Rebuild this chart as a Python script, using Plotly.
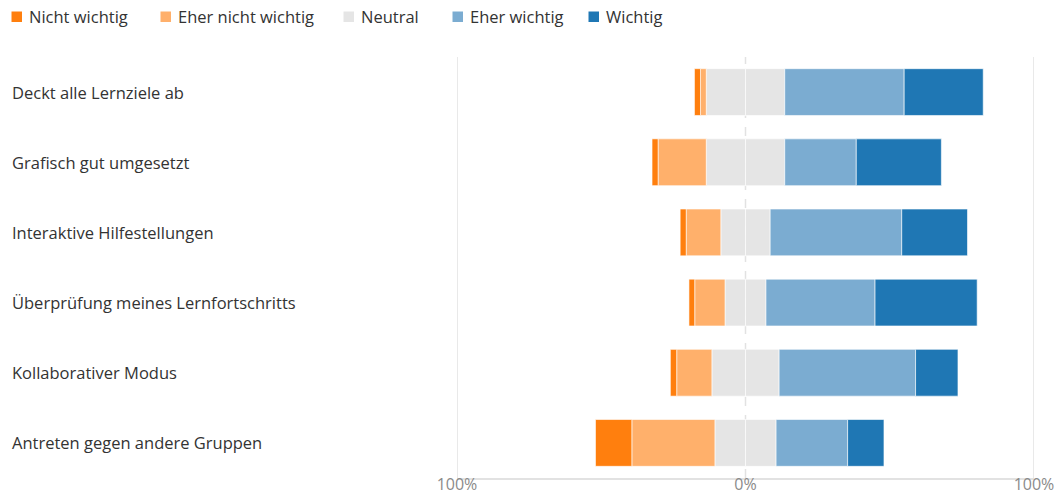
import plotly.graph_objects as go

categories = [
    "Deckt alle Lernziele ab",
    "Grafisch gut umgesetzt",
    "Interaktive Hilfestellungen",
    "Überprüfung meines Lernfortschritts",
    "Kollaborativer Modus",
    "Antreten gegen andere Gruppen",
]
nicht_wichtig = [2.1, 2.1, 2.1, 2.0, 2.2, 12.6]
eher_nicht_wichtig = [2.0, 16.7, 12.0, 10.5, 12.2, 28.8]
neutral = [27.2, 27.2, 17.1, 14.2, 23.3, 21.2]
eher_wichtig = [41.4, 24.8, 45.6, 37.8, 47.3, 24.8]
wichtig = [27.4, 29.5, 22.8, 35.4, 14.7, 12.6]

legend_names = ["Nicht wichtig", "Eher nicht wichtig", "Neutral", "Eher wichtig", "Wichtig"]

tick_vals = [-100, 0, 100]
tick_text = ["100%", "0%", "100%"]

colors = {
    "Nicht wichtig": "#ff7f0e",
    "Eher nicht wichtig": "#ffb06b",
    "Neutral": "#e5e5e5",
    "Eher wichtig": "#7bacd1",
    "Wichtig": "#1f77b4",
}

FONT = "Open Sans, Noto Sans, sans-serif"
FS = 16.5
W, H = 1057, 494
TOP, BOTTOM = 57, 478
line = dict(color="rgba(255,255,255,0.6)", width=1)

fig = go.Figure()
half_neutral = [v / 2 for v in neutral]

def add(name, xs):
    fig.add_trace(go.Bar(
        y=categories, x=xs, orientation="h", name=name,
        marker=dict(color=colors[name], line=line),
        width=0.667, showlegend=False, hoverinfo="x+y+name",
    ))

add("Neutral", [-v for v in half_neutral])
add("Neutral", half_neutral)
add("Eher nicht wichtig", [-v for v in eher_nicht_wichtig])
add("Eher wichtig", eher_wichtig)
add("Nicht wichtig", [-v for v in nicht_wichtig])
add("Wichtig", wichtig)

def py(pix):
    return (BOTTOM - pix) / (BOTTOM - TOP)

# custom legend (square + label)
legend_text_x = [29, 178, 361, 470, 606]
for name, tx in zip(legend_names, legend_text_x):
    fig.add_shape(
        type="rect", xref="paper", yref="paper",
        x0=(tx - 17.5) / W, x1=(tx - 7) / W, y0=py(22), y1=py(11.5),
        fillcolor=colors[name], line=dict(width=0),
    )
    fig.add_annotation(
        x=(tx - 2) / W, xref="paper", xanchor="left",
        y=py(17), yref="paper", yanchor="middle",
        text=name, showarrow=False,
        font=dict(family=FONT, size=FS, color="#333333"),
    )

# category labels, left aligned
for c in categories:
    fig.add_annotation(
        x=10 / W, xref="paper", xanchor="left",
        y=c, yref="y", text=c, showarrow=False,
        font=dict(family=FONT, size=FS, color="#333333"),
    )

# gridlines
for v, dash in [(-100, "solid"), (100, "solid"), (0, "dash")]:
    fig.add_shape(
        type="line", x0=v, x1=v, y0=0, y1=1, xref="x", yref="y domain",
        line=dict(color="#e2e2e2", width=1.5, dash=dash), layer="below",
    )

fig.update_layout(
    width=W, height=H,
    barmode="relative",
    bargap=0.333,
    showlegend=False,
    plot_bgcolor="white", paper_bgcolor="white",
    margin=dict(l=0, r=0, t=TOP, b=H - BOTTOM, autoexpand=False),
    font=dict(family=FONT, size=FS, color="#333333"),
    xaxis=dict(
        domain=[457 / W, 1034 / W],
        range=[-100, 100],
        tickvals=tick_vals, ticktext=tick_text,
        showgrid=False, zeroline=False,
        showline=True, linecolor="#e2e2e2", linewidth=1.5,
        ticks="", tickfont=dict(family=FONT, size=16, color="#8a8a8a"),
        ticklabelstandoff=-9,
        fixedrange=True,
    ),
    yaxis=dict(
        categoryorder="array", categoryarray=categories,
        autorange="reversed", showticklabels=False,
        showgrid=False, zeroline=False, showline=False,
        fixedrange=True,
    ),
)

fig.write_html("out.html")
